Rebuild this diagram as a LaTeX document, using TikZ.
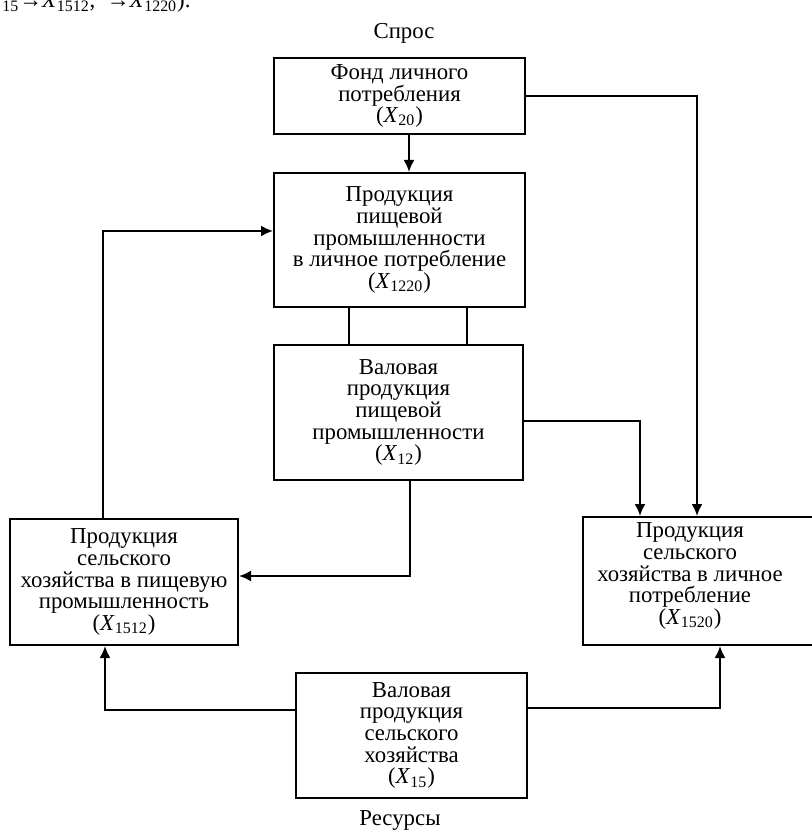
\documentclass[tikz,border=0pt]{standalone}
\usepackage{fontspec}
\setmainfont{Liberation Serif}
\usetikzlibrary{calc,arrows.meta}

\newcommand\varx[1]{\textit{X}\textsubscript{#1}}
\newcommand\boxfont{\fontsize{11.4}{10.8}\selectfont}

\begin{document}
\begin{tikzpicture}[x=0.5pt,y=-0.5pt]
\def\px{0.5pt}
\def\ln{1pt}

\tikzset{
  blk/.style={draw, line width=\ln, inner sep=0pt, align=center, font=\boxfont},
  txt/.style={inner sep=0pt, align=center, font=\boxfont},
  wire/.style={line width=\ln},
  flow/.style={line width=\ln, -{Latex[length=6pt,width=5.5pt]}},
}

\useasboundingbox (0,0) rectangle (811,833);

% text above, cut by the page
\node[txt, anchor=base west, font=\fontsize{11.4}{12}\selectfont] (frag) at (2,8)
  {\textsubscript{15}→\varx{1512},\ \ →\varx{1220}).};

% titles
\node[txt] (spros) at (404,33) {Спрос};
\node[txt] (resursy) at (400,820) {Ресурсы};

% boxes
\node[blk, minimum width=251*\px, minimum height=76*\px] (fond) at (399.5,96)
  {Фонд личного\\потребления\\(\varx{20})};
\node[blk, minimum width=251*\px, minimum height=134*\px] (c1220) at (399.5,240)
  {Продукция\\пищевой\\промышленности\\в личное потребление\\(\varx{1220})};
\node[blk, minimum width=249*\px, minimum height=135*\px] (c12) at (398.5,412.5)
  {Валовая\\продукция\\пищевой\\промышленности\\(\varx{12})};
\node[blk, minimum width=228*\px, minimum height=126*\px] (c1512) at (124,582)
  {Продукция\\сельского\\хозяйства в пищевую\\промышленность\\(\varx{1512})};
\node[blk, minimum width=239*\px, minimum height=128*\px] (c1520) at (702.5,581) {};
\node[txt] (t1520) at (690,576)
  {Продукция\\сельского\\хозяйства в личное\\потребление\\(\varx{1520})};
\node[blk, minimum width=231*\px, minimum height=125*\px] (c15) at (411.5,735.5)
  {Валовая\\продукция\\сельского\\хозяйства\\(\varx{15})};

% demand side
\draw[flow] ($(fond.south)+(9.5,0)$) -- ($(c1220.north)+(9.5,0)$);
\draw[flow] (fond.east) -| ($(c1520.north)+(-5.5,0)$);

% links between the food industry boxes
\draw[wire] ($(c1220.south)+(-50.5,0)$) -- ($(c12.north)+(-49.5,0)$);
\draw[wire] ($(c1220.south)+(67.5,0)$) -- ($(c12.north)+(68.5,0)$);

\draw[flow] ($(c12.east)+(0,8.5)$) -| ($(c1520.north)+(-62.5,0)$);
\draw[flow] ($(c12.south)+(11.5,0)$) |- ($(c1512.east)+(0,-6)$);
\draw[flow] ($(c1512.north)+(-21.5,0)$) |- ($(c1220.west)+(0,-9)$);

% resources side
\draw[flow] ($(c15.west)+(0,-25.5)$) -| ($(c1512.south)+(-19,0)$);
\draw[flow] ($(c15.east)+(0,-27.5)$) -| ($(c1520.south)+(17.5,0)$);

\end{tikzpicture}
\end{document}
